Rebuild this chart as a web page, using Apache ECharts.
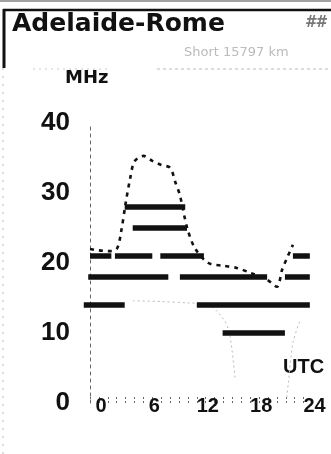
<!DOCTYPE html>
<html>
<head>
<meta charset="utf-8">
<script src="https://cdn.jsdelivr.net/npm/echarts@6/dist/echarts.min.js"></script>
<style>
html,body{margin:0;padding:0;background:#fff;}
#chart{width:331px;height:454px;}
</style>
</head>
<body>
<div id="chart"></div>
<script>
// ---- data ----
const titleText = 'Adelaide-Rome';
const subtitleText = 'Short 15797 km';
const yUnit = 'MHz';
const xUnit = 'UTC';
const xTickLabels = [0, 6, 12, 18, 24];
const yTickLabels = [0, 10, 20, 30, 40];

// amateur band operating windows: [start hour, end hour]
const band28 = 28, seg28 = [[3.9, 10.7]];
const band25 = 25, seg25 = [[4.8, 10.9]];
const band21 = 21, seg21 = [[0, 2.4], [2.8, 7.0], [7.9, 12.8], [22.8, 24.7]];
const band18 = 18, seg18 = [[-0.2, 8.8], [10.1, 19.9], [21.9, 24.7]];
const band14 = 14, seg14 = [[-0.7, 3.9], [12.0, 24.7]];
const band10 = 10, seg10 = [[14.9, 21.9]];

// MUF curve (dotted)
const mufHours = [0, 1, 2, 3, 3.5, 4, 4.5, 5, 6, 7, 8, 9, 9.6, 10.1, 10.9, 11.8, 13.3, 15, 16.5, 18, 19.9, 21, 21.6, 22.1, 22.8];
const mufMHz   = [22, 21.8, 21.7, 22, 24.5, 28.5, 32, 34.5, 35.3, 34.6, 34, 33.6, 31.5, 29.7, 25.1, 22.1, 20, 19.6, 19.3, 18.6, 17.6, 16.6, 19.1, 20.6, 22.6];

// faint lower curve
const lufHoursA = [4.8, 8, 11, 13, 15, 15.7, 16.3];
const lufMHzA   = [14.6, 14.5, 14.3, 14.2, 12, 9.8, 3.4];
const lufHoursB = [22.1, 22.3, 22.8, 23.6];
const lufMHzB   = [0.8, 3, 8.6, 11.8];

// ---- build ----
function segs(band, list) { return list.map(s => [s[0], s[1], band]); }
const barData = [].concat(
  segs(band28, seg28), segs(band25, seg25), segs(band21, seg21),
  segs(band18, seg18), segs(band14, seg14), segs(band10, seg10)
);
const zip = (a, b) => a.map((v, i) => [v, b[i]]);

const chart = echarts.init(document.getElementById('chart'), null, {renderer: 'canvas'});
const option = {
  animation: false,
  backgroundColor: '#fff',
  grid: {left: 90, right: 27.4, top: 123, bottom: 51},
  xAxis: {
    type: 'value', min: 0, max: 24, interval: 1,
    axisLine: {show: false},
    splitLine: {show: false},
    axisTick: {show: true, inside: true, length: 7, lineStyle: {color: '#666', type: [2, 2], width: 1}},
    axisLabel: {
      margin: -7,
      padding: [0, 0, 0, 22],
      fontFamily: 'Liberation Sans', fontWeight: 'bold', fontSize: 20, color: '#111',
      formatter: v => xTickLabels.indexOf(v) >= 0 ? String(v) : ''
    }
  },
  yAxis: {
    type: 'value', min: 0, max: 40, interval: 10,
    axisLine: {show: true, lineStyle: {color: '#666', type: [3, 4], width: 1}},
    axisTick: {show: false},
    splitLine: {show: false},
    axisLabel: {
      margin: 20,
      fontFamily: 'Liberation Sans', fontWeight: 'bold', fontSize: 26, color: '#111',
      formatter: v => yTickLabels.indexOf(v) >= 0 ? String(v) : ''
    }
  },
  series: [
    {
      type: 'line', data: zip(lufHoursA, lufMHzA), symbol: 'none', smooth: 0.3,
      lineStyle: {color: '#bbb', width: 1, type: [2, 3]}, z: 1
    },
    {
      type: 'line', data: zip(lufHoursB, lufMHzB), symbol: 'none', smooth: 0.3,
      lineStyle: {color: '#bbb', width: 1, type: [2, 3]}, z: 1
    },
    {
      type: 'line', data: zip(mufHours, mufMHz), symbol: 'none', smooth: 0.3,
      lineStyle: {color: '#111', width: 2.6, type: [4, 5]}, z: 3
    },
    {
      type: 'custom', clip: false, z: 4,
      data: barData,
      encode: {x: [0, 1], y: 2},
      renderItem: function (params, api) {
        const p1 = api.coord([api.value(0), api.value(2)]);
        const p2 = api.coord([api.value(1), api.value(2)]);
        return {
          type: 'line',
          shape: {x1: p1[0], y1: p1[1], x2: p2[0], y2: p2[1]},
          style: {stroke: '#111', lineWidth: 5.5, lineCap: 'butt'}
        };
      }
    }
  ],
  graphic: [
    {type: 'line', shape: {x1: 0, y1: 1, x2: 331, y2: 1}, style: {stroke: '#444', lineWidth: 1}},
    {type: 'line', shape: {x1: 3, y1: 10, x2: 331, y2: 10}, style: {stroke: '#111', lineWidth: 2.5}},
    {type: 'line', shape: {x1: 4, y1: 9, x2: 4, y2: 68}, style: {stroke: '#111', lineWidth: 3}},
    {type: 'line', shape: {x1: 3, y1: 68, x2: 3, y2: 454}, style: {stroke: '#bbb', lineWidth: 1, lineDash: [2, 6]}},
    {type: 'line', shape: {x1: 33, y1: 69, x2: 110, y2: 69}, style: {stroke: '#ccc', lineWidth: 1, lineDash: [2, 4]}},
    {type: 'line', shape: {x1: 157, y1: 69, x2: 330, y2: 69}, style: {stroke: '#bbb', lineWidth: 1, lineDash: [3, 3]}},
    {type: 'text', x: 12, y: 24, style: {text: titleText, font: 'bold 25px "DejaVu Sans"', fill: '#111', align: 'left', verticalAlign: 'middle'}},
    {type: 'text', x: 305, y: 23, style: {text: '##', font: 'italic bold 15px "DejaVu Sans"', fill: '#777', align: 'left', verticalAlign: 'middle'}},
    {type: 'text', x: 184, y: 53, style: {text: subtitleText, font: '13px "DejaVu Sans"', fill: '#bbb', align: 'left', verticalAlign: 'middle'}},
    {type: 'text', x: 65, y: 78, style: {text: yUnit, font: 'bold 18px "DejaVu Sans"', fill: '#111', align: 'left', verticalAlign: 'middle'}},
    {type: 'text', x: 283, y: 367, style: {text: xUnit, font: 'bold 20px "Liberation Sans"', fill: '#111', align: 'left', verticalAlign: 'middle'}}
  ]
};
chart.setOption(option);
</script>
</body>
</html>
